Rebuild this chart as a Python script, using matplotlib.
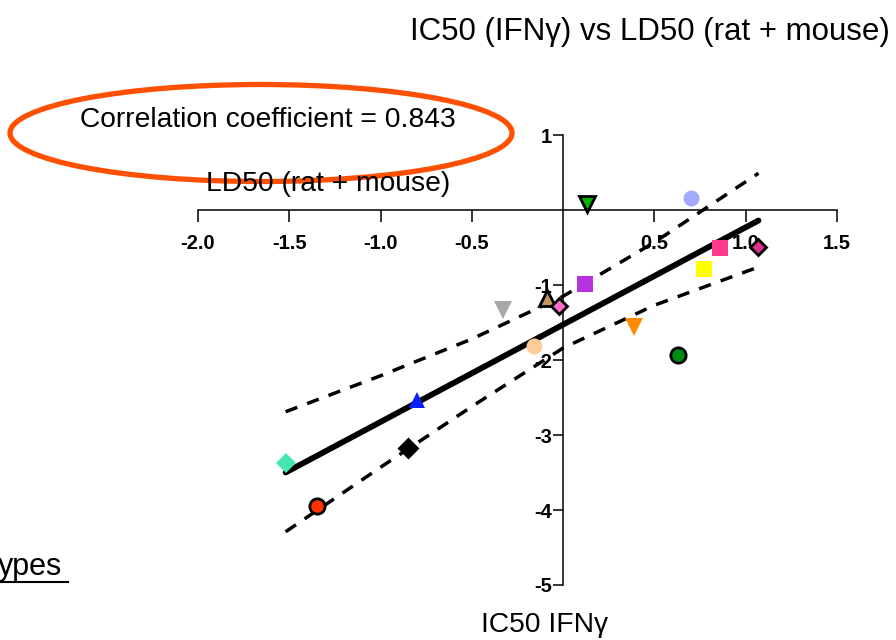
import matplotlib
matplotlib.use("Agg")
import matplotlib.pyplot as plt
import matplotlib.patches as patches

plt.rcParams['font.family'] = ['Liberation Sans', 'DejaVu Sans']

# IC50 (x) vs LD50 (y), one point per compound
ic50 = [0.13, 0.70, 0.86, 1.07, 0.77, 0.12, -0.33, -0.09, -0.02, 0.39,
        -0.16, 0.63, -0.80, -0.85, -1.52, -1.35]
ld50 = [0.08, 0.16, -0.51, -0.49, -0.79, -0.99, -1.33, -1.17, -1.28, -1.56,
        -1.81, -1.93, -2.53, -3.17, -3.37, -3.95]

# regression line and 95% bands
fit_x = [-1.52, 1.07]
fit_y = [-3.50, -0.14]
band_x = [-1.52, -1.0, -0.5, 0.0, 0.5, 1.07]
band_hi = [-2.69, -2.21, -1.72, -1.15, -0.43, 0.49]
band_lo = [-4.29, -3.43, -2.62, -1.84, -1.27, -0.76]

xticks = [-2.0, -1.5, -1.0, -0.5, 0.5, 1.0, 1.5]
yticks = [1, -1, -2, -3, -4, -5]

# marker style per point
styles = [
    ('v', '#00b400', 'black', 12),
    ('o', '#a3a9ff', 'none', 11.5),
    ('s', '#ff3a8c', 'none', 12),
    ('D', '#e0308c', 'black', 8),
    ('s', '#ffff00', 'none', 12),
    ('s', '#b434e0', 'none', 12),
    ('v', '#a8a8a8', 'none', 13),
    ('^', '#c8965a', 'black', 11),
    ('D', '#ff6ccc', 'black', 8),
    ('v', '#ff8c00', 'none', 13),
    ('o', '#ffcc99', 'none', 11.5),
    ('o', '#008c14', 'black', 11),
    ('^', '#0a1eff', 'none', 12),
    ('D', 'black', 'black', 9),
    ('D', '#46e6b4', 'none', 10),
    ('o', '#ff3200', 'black', 11),
]

fig = plt.figure(figsize=(8.96, 6.4), dpi=100)
ax = fig.add_axes([198/896, 1-585/640, (837-198)/896, (585-135)/640])

ax.plot(band_x, band_hi, color='black', lw=2.5, ls=(0, (3.6, 3)), clip_on=False)
ax.plot(band_x, band_lo, color='black', lw=2.5, ls=(0, (3.6, 3)), clip_on=False)
ax.plot(fit_x, fit_y, color='black', lw=4.2, solid_capstyle='round', clip_on=False)

for x, y, (m, fc, ec, ms) in zip(ic50, ld50, styles):
    ax.plot(x, y, marker=m, ms=ms, mfc=fc, mec=ec, mew=2 if ec != 'none' else 0,
            ls='none', clip_on=False, zorder=3)

ax.set_xlim(-2.0, 1.5)
ax.set_ylim(-5, 1)
ax.spines['left'].set_position(('data', 0))
ax.spines['bottom'].set_position(('data', 0))
ax.spines['top'].set_visible(False)
ax.spines['right'].set_visible(False)
for s in ('left', 'bottom'):
    ax.spines[s].set_linewidth(1.1)
ax.set_xticks(xticks)
ax.set_xticklabels(['%.1f' % t for t in xticks], fontweight='bold', fontsize=14.5)
ax.set_yticks(yticks)
ax.set_yticklabels(['%d' % t for t in yticks], fontweight='bold', fontsize=14.5)
ax.tick_params(axis='x', direction='out', length=8.5, width=1.1, pad=9)
ax.tick_params(axis='y', direction='out', length=7, width=1.1, pad=1)
ax.patch.set_visible(False)

fig.text(650/896, 1-32/640, 'IC50 (IFN\u03b3) vs LD50 (rat + mouse)', fontsize=22.5,
         ha='center', va='center')
fig.text(80/896, 1-120/640, 'Correlation coefficient = 0.843', fontsize=20.3,
         ha='left', va='center')
fig.text(206/896, 1-184/640, 'LD50 (rat + mouse)', fontsize=20.3, ha='left', va='center')
fig.text(545/896, 1-625/640, 'IC50 IFN\u03b3', fontsize=20.3, ha='center', va='center')
fig.text(-2/896, 1-567/640, 'ypes', fontsize=22, ha='left', va='center')
fig.add_artist(plt.Line2D([0, 68/896], [1-582/640, 1-582/640], color='black', lw=1.5))

ell = patches.Ellipse((261/896, 1-133/640), 502/896, 97/640, transform=fig.transFigure,
                      fill=False, edgecolor='#ff4f00', lw=3.8)
fig.add_artist(ell)

fig.savefig('out.png', dpi=100)
